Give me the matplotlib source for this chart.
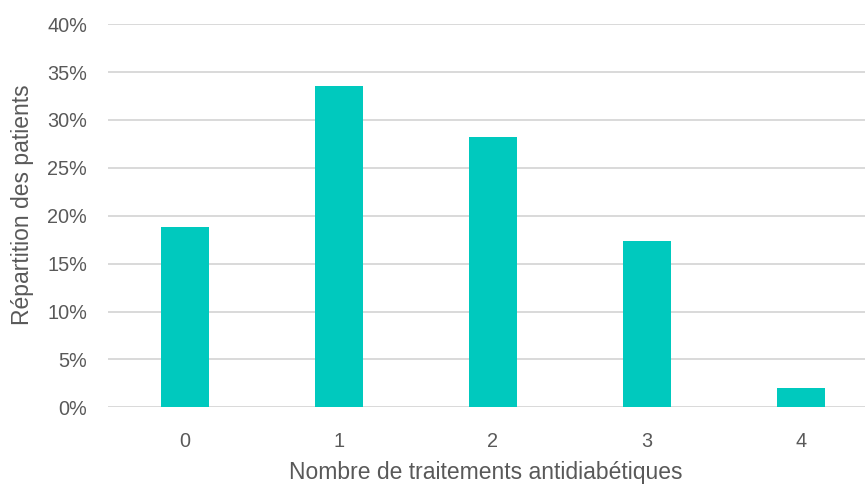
import matplotlib
matplotlib.use("Agg")
import matplotlib.pyplot as plt
from matplotlib.ticker import FuncFormatter

categories = ["0", "1", "2", "3", "4"]
shares = [18.8, 33.5, 28.2, 17.4, 2.0]
y_ticks = [0, 5, 10, 15, 20, 25, 30, 35, 40]

plt.rcParams["font.family"] = ["Liberation Sans", "DejaVu Sans"]
text_color = "#595959"
bar_color = "#00C9BE"
grid_color = "#D9D9D9"

fig = plt.figure(figsize=(8.65, 4.84), dpi=100)
ax = fig.add_axes([108 / 865, (484 - 407.3) / 484, 770 / 865, 383.2 / 484])

x = list(range(len(categories)))
ax.bar(x, shares, width=0.31, color=bar_color, zorder=3)

ax.set_xlim(-0.5, len(categories) - 0.5)
ax.set_ylim(0, 40)
ax.set_yticks(y_ticks)
ax.yaxis.set_major_formatter(FuncFormatter(lambda v, _: f"{v:.0f}%"))
ax.set_xticks(x)
ax.set_xticklabels(categories)

ax.grid(axis="y", color=grid_color, linewidth=1.4, zorder=0)
ax.set_axisbelow(True)
for side in ["top", "right", "left", "bottom"]:
    ax.spines[side].set_visible(False)
ax.tick_params(axis="both", length=0, labelsize=14.3, colors=text_color)
ax.tick_params(axis="x", pad=18)
ax.tick_params(axis="y", pad=15)

ax.set_xlabel("Nombre de traitements antidiabétiques", fontsize=16.5,
              color=text_color)
ax.xaxis.label.set_va("center")
ax.xaxis.set_label_coords(0.49, -(472 - 407.3) / 383.2)

ax.set_ylabel("Répartition des patients", fontsize=16.5, color=text_color)
ax.yaxis.label.set_va("center")
ax.yaxis.set_label_coords(-(108 - 23) / 770, (407.3 - 205) / 383.2)

fig.savefig("out.png", dpi=100)
